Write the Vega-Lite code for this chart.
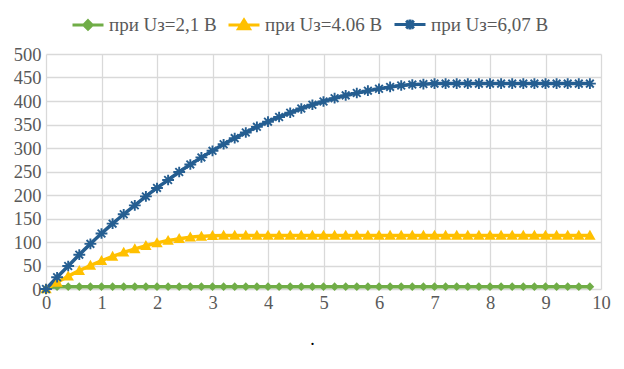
{
  "$schema": "https://vega.github.io/schema/vega-lite/v6.json",
  "autosize": {"type": "none"},
  "width": 555,
  "height": 235,
  "padding": {"left": 46, "top": 54, "right": 23, "bottom": 80},
  "background": "white",
  "data": {"values": [
    {"x": 0, "y": 0, "s": "при Uз=2,1 В"}, {"x": 0.2, "y": 5, "s": "при Uз=2,1 В"}, {"x": 0.4, "y": 5, "s": "при Uз=2,1 В"}, {"x": 0.6, "y": 5, "s": "при Uз=2,1 В"}, {"x": 0.8, "y": 5, "s": "при Uз=2,1 В"},
    {"x": 1.0, "y": 5, "s": "при Uз=2,1 В"}, {"x": 1.2, "y": 5, "s": "при Uз=2,1 В"}, {"x": 1.4, "y": 5, "s": "при Uз=2,1 В"}, {"x": 1.6, "y": 5, "s": "при Uз=2,1 В"}, {"x": 1.8, "y": 5, "s": "при Uз=2,1 В"},
    {"x": 2.0, "y": 5, "s": "при Uз=2,1 В"}, {"x": 2.2, "y": 5, "s": "при Uз=2,1 В"}, {"x": 2.4, "y": 5, "s": "при Uз=2,1 В"}, {"x": 2.6, "y": 5, "s": "при Uз=2,1 В"}, {"x": 2.8, "y": 5, "s": "при Uз=2,1 В"},
    {"x": 3.0, "y": 5, "s": "при Uз=2,1 В"}, {"x": 3.2, "y": 5, "s": "при Uз=2,1 В"}, {"x": 3.4, "y": 5, "s": "при Uз=2,1 В"}, {"x": 3.6, "y": 5, "s": "при Uз=2,1 В"}, {"x": 3.8, "y": 5, "s": "при Uз=2,1 В"},
    {"x": 4.0, "y": 5, "s": "при Uз=2,1 В"}, {"x": 4.2, "y": 5, "s": "при Uз=2,1 В"}, {"x": 4.4, "y": 5, "s": "при Uз=2,1 В"}, {"x": 4.6, "y": 5, "s": "при Uз=2,1 В"}, {"x": 4.8, "y": 5, "s": "при Uз=2,1 В"},
    {"x": 5.0, "y": 5, "s": "при Uз=2,1 В"}, {"x": 5.2, "y": 5, "s": "при Uз=2,1 В"}, {"x": 5.4, "y": 5, "s": "при Uз=2,1 В"}, {"x": 5.6, "y": 5, "s": "при Uз=2,1 В"}, {"x": 5.8, "y": 5, "s": "при Uз=2,1 В"},
    {"x": 6.0, "y": 5, "s": "при Uз=2,1 В"}, {"x": 6.2, "y": 5, "s": "при Uз=2,1 В"}, {"x": 6.4, "y": 5, "s": "при Uз=2,1 В"}, {"x": 6.6, "y": 5, "s": "при Uз=2,1 В"}, {"x": 6.8, "y": 5, "s": "при Uз=2,1 В"},
    {"x": 7.0, "y": 5, "s": "при Uз=2,1 В"}, {"x": 7.2, "y": 5, "s": "при Uз=2,1 В"}, {"x": 7.4, "y": 5, "s": "при Uз=2,1 В"}, {"x": 7.6, "y": 5, "s": "при Uз=2,1 В"}, {"x": 7.8, "y": 5, "s": "при Uз=2,1 В"},
    {"x": 8.0, "y": 5, "s": "при Uз=2,1 В"}, {"x": 8.2, "y": 5, "s": "при Uз=2,1 В"}, {"x": 8.4, "y": 5, "s": "при Uз=2,1 В"}, {"x": 8.6, "y": 5, "s": "при Uз=2,1 В"}, {"x": 8.8, "y": 5, "s": "при Uз=2,1 В"},
    {"x": 9.0, "y": 5, "s": "при Uз=2,1 В"}, {"x": 9.2, "y": 5, "s": "при Uз=2,1 В"}, {"x": 9.4, "y": 5, "s": "при Uз=2,1 В"}, {"x": 9.6, "y": 5, "s": "при Uз=2,1 В"}, {"x": 9.8, "y": 5, "s": "при Uз=2,1 В"},

    {"x": 0, "y": 0, "s": "при Uз=4.06 В"}, {"x": 0.2, "y": 14, "s": "при Uз=4.06 В"}, {"x": 0.4, "y": 27, "s": "при Uз=4.06 В"}, {"x": 0.6, "y": 39, "s": "при Uз=4.06 В"}, {"x": 0.8, "y": 50, "s": "при Uз=4.06 В"},
    {"x": 1.0, "y": 60, "s": "при Uз=4.06 В"}, {"x": 1.2, "y": 69, "s": "при Uз=4.06 В"}, {"x": 1.4, "y": 78, "s": "при Uз=4.06 В"}, {"x": 1.6, "y": 85, "s": "при Uз=4.06 В"}, {"x": 1.8, "y": 92, "s": "при Uз=4.06 В"},
    {"x": 2.0, "y": 98, "s": "при Uз=4.06 В"}, {"x": 2.2, "y": 103, "s": "при Uз=4.06 В"}, {"x": 2.4, "y": 107, "s": "при Uз=4.06 В"}, {"x": 2.6, "y": 110, "s": "при Uз=4.06 В"}, {"x": 2.8, "y": 112, "s": "при Uз=4.06 В"},
    {"x": 3.0, "y": 113.5, "s": "при Uз=4.06 В"}, {"x": 3.2, "y": 114, "s": "при Uз=4.06 В"}, {"x": 3.4, "y": 114, "s": "при Uз=4.06 В"}, {"x": 3.6, "y": 114, "s": "при Uз=4.06 В"}, {"x": 3.8, "y": 114, "s": "при Uз=4.06 В"},
    {"x": 4.0, "y": 114, "s": "при Uз=4.06 В"}, {"x": 4.2, "y": 114, "s": "при Uз=4.06 В"}, {"x": 4.4, "y": 114, "s": "при Uз=4.06 В"}, {"x": 4.6, "y": 114, "s": "при Uз=4.06 В"}, {"x": 4.8, "y": 114, "s": "при Uз=4.06 В"},
    {"x": 5.0, "y": 114, "s": "при Uз=4.06 В"}, {"x": 5.2, "y": 114, "s": "при Uз=4.06 В"}, {"x": 5.4, "y": 114, "s": "при Uз=4.06 В"}, {"x": 5.6, "y": 114, "s": "при Uз=4.06 В"}, {"x": 5.8, "y": 114, "s": "при Uз=4.06 В"},
    {"x": 6.0, "y": 114, "s": "при Uз=4.06 В"}, {"x": 6.2, "y": 114, "s": "при Uз=4.06 В"}, {"x": 6.4, "y": 114, "s": "при Uз=4.06 В"}, {"x": 6.6, "y": 114, "s": "при Uз=4.06 В"}, {"x": 6.8, "y": 114, "s": "при Uз=4.06 В"},
    {"x": 7.0, "y": 114, "s": "при Uз=4.06 В"}, {"x": 7.2, "y": 114, "s": "при Uз=4.06 В"}, {"x": 7.4, "y": 114, "s": "при Uз=4.06 В"}, {"x": 7.6, "y": 114, "s": "при Uз=4.06 В"}, {"x": 7.8, "y": 114, "s": "при Uз=4.06 В"},
    {"x": 8.0, "y": 114, "s": "при Uз=4.06 В"}, {"x": 8.2, "y": 114, "s": "при Uз=4.06 В"}, {"x": 8.4, "y": 114, "s": "при Uз=4.06 В"}, {"x": 8.6, "y": 114, "s": "при Uз=4.06 В"}, {"x": 8.8, "y": 114, "s": "при Uз=4.06 В"},
    {"x": 9.0, "y": 114, "s": "при Uз=4.06 В"}, {"x": 9.2, "y": 114, "s": "при Uз=4.06 В"}, {"x": 9.4, "y": 114, "s": "при Uз=4.06 В"}, {"x": 9.6, "y": 114, "s": "при Uз=4.06 В"}, {"x": 9.8, "y": 114, "s": "при Uз=4.06 В"},

    {"x": 0, "y": 0, "s": "при Uз=6,07 В"}, {"x": 0.2, "y": 25, "s": "при Uз=6,07 В"}, {"x": 0.4, "y": 49, "s": "при Uз=6,07 В"}, {"x": 0.6, "y": 73, "s": "при Uз=6,07 В"}, {"x": 0.8, "y": 96, "s": "при Uз=6,07 В"},
    {"x": 1.0, "y": 118, "s": "при Uз=6,07 В"}, {"x": 1.2, "y": 139, "s": "при Uз=6,07 В"}, {"x": 1.4, "y": 159, "s": "при Uз=6,07 В"}, {"x": 1.6, "y": 178, "s": "при Uз=6,07 В"}, {"x": 1.8, "y": 197, "s": "при Uз=6,07 В"},
    {"x": 2.0, "y": 215, "s": "при Uз=6,07 В"}, {"x": 2.2, "y": 232, "s": "при Uз=6,07 В"}, {"x": 2.4, "y": 249, "s": "при Uз=6,07 В"}, {"x": 2.6, "y": 265, "s": "при Uз=6,07 В"}, {"x": 2.8, "y": 280, "s": "при Uз=6,07 В"},
    {"x": 3.0, "y": 294, "s": "при Uз=6,07 В"}, {"x": 3.2, "y": 308, "s": "при Uз=6,07 В"}, {"x": 3.4, "y": 321, "s": "при Uз=6,07 В"}, {"x": 3.6, "y": 333, "s": "при Uз=6,07 В"}, {"x": 3.8, "y": 345, "s": "при Uз=6,07 В"},
    {"x": 4.0, "y": 356, "s": "при Uз=6,07 В"}, {"x": 4.2, "y": 366, "s": "при Uз=6,07 В"}, {"x": 4.4, "y": 375, "s": "при Uз=6,07 В"}, {"x": 4.6, "y": 384, "s": "при Uз=6,07 В"}, {"x": 4.8, "y": 392, "s": "при Uз=6,07 В"},
    {"x": 5.0, "y": 399, "s": "при Uз=6,07 В"}, {"x": 5.2, "y": 406, "s": "при Uз=6,07 В"}, {"x": 5.4, "y": 412, "s": "при Uз=6,07 В"}, {"x": 5.6, "y": 417, "s": "при Uз=6,07 В"}, {"x": 5.8, "y": 422, "s": "при Uз=6,07 В"},
    {"x": 6.0, "y": 426, "s": "при Uз=6,07 В"}, {"x": 6.2, "y": 430, "s": "при Uз=6,07 В"}, {"x": 6.4, "y": 433, "s": "при Uз=6,07 В"}, {"x": 6.6, "y": 435, "s": "при Uз=6,07 В"}, {"x": 6.8, "y": 436, "s": "при Uз=6,07 В"},
    {"x": 7.0, "y": 437, "s": "при Uз=6,07 В"}, {"x": 7.2, "y": 437, "s": "при Uз=6,07 В"}, {"x": 7.4, "y": 437, "s": "при Uз=6,07 В"}, {"x": 7.6, "y": 437, "s": "при Uз=6,07 В"}, {"x": 7.8, "y": 437, "s": "при Uз=6,07 В"},
    {"x": 8.0, "y": 437, "s": "при Uз=6,07 В"}, {"x": 8.2, "y": 437, "s": "при Uз=6,07 В"}, {"x": 8.4, "y": 437, "s": "при Uз=6,07 В"}, {"x": 8.6, "y": 437, "s": "при Uз=6,07 В"}, {"x": 8.8, "y": 437, "s": "при Uз=6,07 В"},
    {"x": 9.0, "y": 437, "s": "при Uз=6,07 В"}, {"x": 9.2, "y": 437, "s": "при Uз=6,07 В"}, {"x": 9.4, "y": 437, "s": "при Uз=6,07 В"}, {"x": 9.6, "y": 437, "s": "при Uз=6,07 В"}, {"x": 9.8, "y": 437, "s": "при Uз=6,07 В"}
  ]},
  "encoding": {
    "x": {"field": "x", "type": "quantitative",
      "scale": {"domain": [0, 10], "nice": false},
      "axis": {"values": [0,1,2,3,4,5,6,7,8,9,10], "title": ".", "titleX": 266, "titleY": 55, "titleAlign": "center", "titleBaseline": "alphabetic", "titleColor": "#000000", "titleFont": "Liberation Serif", "titleFontSize": 18, "titleFontWeight": "normal", "labelPadding": 4, "labelFont": "Liberation Serif", "labelFontSize": 18.5, "labelColor": "#595959"}},
    "y": {"field": "y", "type": "quantitative",
      "scale": {"domain": [0, 500], "nice": false},
      "axis": {"values": [0,50,100,150,200,250,300,350,400,450,500], "title": null, "labelPadding": 5, "labelFont": "Liberation Serif", "labelFontSize": 18.5, "labelColor": "#595959"}},
    "color": {"field": "s", "type": "nominal",
       "scale": {"domain": ["при Uз=2,1 В", "при Uз=4.06 В", "при Uз=6,07 В"], "range": ["#70AD47", "#FFC000", "#255E91"]},
       "legend": {"orient": "none", "legendX": 25, "legendY": -46.5, "direction": "horizontal", "title": null,
           "symbolSize": 961, "symbolStrokeWidth": 3, "labelOffset": 4, "columnPadding": 5,
           "labelFont": "Liberation Serif", "labelFontSize": 19, "labelColor": "#595959", "labelLimit": 300,
           "encode": {"symbols": {"update": {
             "shape": {"signal": "datum.value == 'при Uз=2,1 В' ? 'M-1,0L1,0M0,-0.27L0.27,0L0,0.27L-0.27,0Z' : datum.value == 'при Uз=4.06 В' ? 'M-1,0L1,0M0,-0.32L0.35,0.24L-0.35,0.24Z' : 'M-1,0L1,0M0,-0.32L0,0.32M-0.25,-0.25L0.25,0.25M-0.25,0.25L0.25,-0.25'"},
             "fill": {"scale": "color", "field": "value"},
             "stroke": {"scale": "color", "field": "value"},
             "strokeWidth": {"value": 3},
             "size": {"value": 961},
             "opacity": {"value": 1}}}}}}
  },
  "layer": [
    {"mark": {"type": "line", "strokeWidth": 3.5, "interpolate": "monotone"}},
    {"transform": [{"filter": "datum.s == 'при Uз=2,1 В'"}],
     "mark": {"type": "point", "shape": "diamond", "filled": true, "size": 75, "opacity": 1}},
    {"transform": [{"filter": "datum.s == 'при Uз=4.06 В'"}],
     "mark": {"type": "point", "shape": "M0,-1L1,0.75L-1,0.75Z", "filled": true, "size": 130, "opacity": 1}},
    {"transform": [{"filter": "datum.s == 'при Uз=6,07 В'"}],
     "mark": {"type": "point", "shape": "M-1,0L1,0M0,-0.9L0,0.9M-0.65,-0.65L0.65,0.65M-0.65,0.65L0.65,-0.65", "filled": false, "strokeWidth": 1.9, "size": 140, "opacity": 1}}
  ],
  "config": {
    "view": {"stroke": null},
    "axis": {"grid": true, "gridColor": "#D9D9D9", "gridWidth": 1.3, "domain": false, "ticks": false, "labelFlush": false, "labelOverlap": false}
  }
}
